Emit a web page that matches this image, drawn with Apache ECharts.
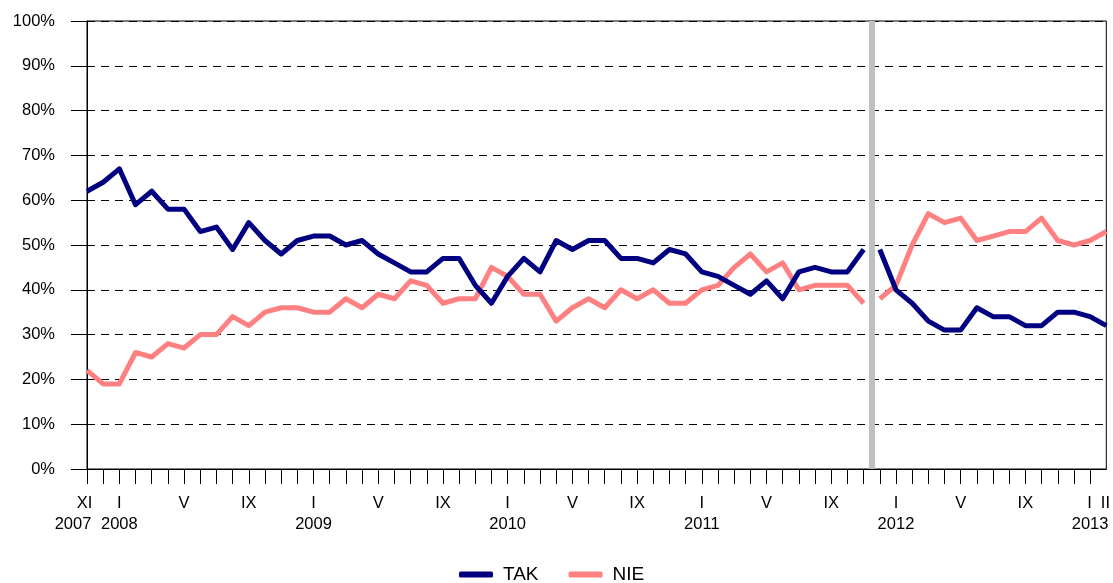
<!DOCTYPE html>
<html>
<head>
<meta charset="utf-8">
<script src="https://cdn.jsdelivr.net/npm/echarts@6/dist/echarts.min.js"></script>
<style>
html,body{margin:0;padding:0;background:#fff;}
#chart{width:1113px;height:583px;}
</style>
</head>
<body>
<div id="chart"></div>
<script>
// Monthly survey results, XI 2007 .. II 2013 (64 months)
const tickLabels = [
  'XI\n2007','', 'I\n2008','','','', 'V','','','', 'IX','','',
  '', 'I\n2009','','','', 'V','','','', 'IX','','','',
  'I\n2010','','','', 'V','','','', 'IX','','','',
  'I\n2011','','','', 'V','','','', 'IX','','','',
  'I\n2012','','','', 'V','','','', 'IX','','','',
  'I\n2013','II'
];
const tak = [
  62,64,67,59,62,58,58,53,54,49,55,51,48,
  51,52,52,50,51,48,46,44,44,47,47,41,37,
  43,47,44,51,49,51,51,47,47,46,49,48,
  44,43,41,39,42,38,44,45,44,44,49,
  49,40,37,33,31,31,36,34,34,32,32,35,35,34,32
];
const nie = [
  22,19,19,26,25,28,27,30,30,34,32,35,36,
  36,35,35,38,36,39,38,42,41,37,38,38,45,
  43,39,39,33,36,38,36,40,38,40,37,37,
  40,41,45,48,44,46,40,41,41,41,37,
  38,41,50,57,55,56,51,52,53,53,56,51,50,51,53
];
const breakIndex = 49;      // series are interrupted between XI and XII 2011
const breakPosition = 48.5; // grey separator

function seg(arr, from, to) {
  const out = [];
  for (let i = from; i < to; i++) out.push([i, arr[i]]);
  return out;
}

const chart = echarts.init(document.getElementById('chart'));
const font = 'Liberation Sans, Arial, sans-serif';
const takColor = '#000080';
const nieColor = '#FF8080';
const lineW = 5;
const fs = 16.5;
const last = tickLabels.length - 1;

function lineSeries(name, color, data, extra) {
  return Object.assign({
    name: name,
    type: 'line',
    data: data,
    showSymbol: false,
    symbol: 'none',
    color: color,
    lineStyle: {color: color, width: lineW, join: 'round', cap: 'butt'},
    animation: false,
    z: name === 'TAK' ? 4 : 3
  }, extra || {});
}

// The last two ticks are one month apart and would collide, so the final
// month name is drawn as part of the previous label (same positions).
function fmtX(v) {
  const i = Math.round(v);
  if (i === last) return '';
  const s = tickLabels[i] || '';
  if (!s) return '';
  const parts = s.split('\n');
  if (i === 0) {
    return '{m0|' + parts[0] + '}\n{y0|' + parts[1] + '}';
  }
  if (i === last - 1) {
    return '{pl|' + parts[0] + '}{gap|}{n|' + tickLabels[last] + '}\n{n|' + parts[1] + '}';
  }
  return parts.map(function (p) { return '{n|' + p + '}'; }).join('\n');
}

const txt = {fontFamily: font, fontSize: fs, color: '#000', lineHeight: 21};

chart.setOption({
  animation: false,
  backgroundColor: '#fff',
  grid: {
    left: 87, right: 5, top: 21, bottom: 114,
    show: true, borderColor: '#000', borderWidth: 1
  },
  legend: {
    data: ['TAK', 'NIE'],
    top: 560,
    left: 454,
    itemWidth: 34,
    itemHeight: 6,
    itemGap: 30,
    icon: 'roundRect',
    textStyle: {fontFamily: font, fontSize: 19, color: '#000', padding: [0, 0, 0, 5]}
  },
  xAxis: {
    type: 'value',
    min: 0, max: 63, interval: 1,
    axisLine: {lineStyle: {color: '#000', width: 1}},
    axisTick: {show: true, length: 15, lineStyle: {color: '#000'}},
    splitLine: {show: false},
    axisLabel: {
      fontFamily: font, fontSize: fs, color: '#000',
      lineHeight: 21, margin: 24,
      showMinLabel: true, showMaxLabel: false, hideOverlap: false,
      formatter: fmtX,
      rich: {
        n: Object.assign({}, txt),
        pl: Object.assign({}, txt, {padding: [0, 0, 0, 17]}),
        gap: Object.assign({}, txt, {width: 9}),
        m0: Object.assign({}, txt, {padding: [0, 5, 0, 0]}),
        y0: Object.assign({}, txt, {padding: [0, 28, 0, 0]})
      }
    }
  },
  yAxis: {
    type: 'value',
    min: 0, max: 100, interval: 10,
    axisLine: {show: true, lineStyle: {color: '#000', width: 1}},
    axisTick: {show: true, length: 16, lineStyle: {color: '#000'}},
    splitLine: {show: true, lineStyle: {color: '#000', type: [8, 6], width: 1}},
    axisLabel: {
      fontFamily: font, fontSize: fs, color: '#000', margin: 32,
      formatter: '{value}%'
    }
  },
  series: [
    lineSeries('TAK', takColor, seg(tak, 0, breakIndex), {
      markLine: {
        silent: true,
        symbol: ['none', 'none'],
        label: {show: false},
        lineStyle: {color: '#C0C0C0', width: 6, type: 'solid'},
        data: [{xAxis: breakPosition}],
        animation: false
      }
    }),
    lineSeries('TAK', takColor, seg(tak, breakIndex, tak.length)),
    lineSeries('NIE', nieColor, seg(nie, 0, breakIndex)),
    lineSeries('NIE', nieColor, seg(nie, breakIndex, nie.length))
  ]
});
</script>
</body>
</html>
